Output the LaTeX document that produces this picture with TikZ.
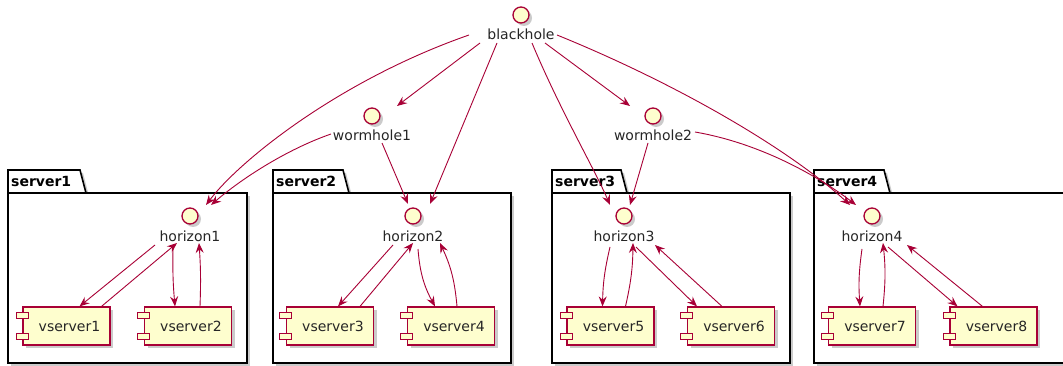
\documentclass[tikz,border=0pt]{standalone}
\usepackage{fontspec}
\setmainfont{DejaVu Sans}
\usetikzlibrary{arrows.meta,shadows,calc}
\definecolor{pred}{HTML}{A80036}
\definecolor{pfill}{HTML}{FEFECE}
\newcommand\vcomp[4]{%
  \node[comp] (#1) at (#2,#3) {\hspace*{6pt}#4};
  \draw[ctab] ([xshift=-6pt,yshift=-6pt]#1.north west) rectangle ++(12pt,-6pt);
  \draw[ctab] ([xshift=-6pt,yshift=6pt]#1.south west) rectangle ++(12pt,6pt);
}
\begin{document}
\begin{tikzpicture}[x=1pt,y=-1pt,
  shad/.style={drop shadow={shadow xshift=3pt,shadow yshift=-3pt,fill=black!45,opacity=0.45}},
  iface/.style={circle,draw=pred,fill=pfill,line width=1.3pt,minimum size=16pt,inner sep=0pt,shad},
  ilabel/.style={inner sep=0pt,text=black!85,font=\fontsize{14}{16}\selectfont},
  comp/.style={rectangle,draw=pred,fill=pfill,line width=1.2pt,minimum width=87pt,minimum height=38pt,inner sep=0pt,text=black!85,font=\fontsize{14}{16}\selectfont,shad},
  ctab/.style={draw=pred,fill=pfill,line width=1pt},
  pkg/.style={draw=black,fill=white,line width=1.6pt,shad},
  plabel/.style={inner sep=0pt,anchor=west,font=\bfseries\fontsize{14}{16}\selectfont},
  conn/.style={draw=pred,line width=0.9pt,-{Stealth[length=10pt,width=8pt,inset=3.5pt]}}
]
\useasboundingbox (0,0) rectangle (1063,366);
\fill[white] (0,0) rectangle (1063,366);

% packages
\draw[pkg] (8,193) -- (8,170) -- (80,170) -- (86,193) -- cycle;
\draw[pkg] (8,193) rectangle (247,363);
\node[plabel] (p1) at (11,181) {server1};
\draw[pkg] (273,193) -- (273,170) -- (343,170) -- (349,193) -- cycle;
\draw[pkg] (273,193) rectangle (511,363);
\node[plabel] (p2) at (276,181) {server2};
\draw[pkg] (552,193) -- (552,170) -- (621,170) -- (627,193) -- cycle;
\draw[pkg] (552,193) rectangle (790,363);
\node[plabel] (p3) at (555,181) {server3};
\draw[pkg] (814,193) -- (814,170) -- (884,170) -- (890,193) -- cycle;
\draw[pkg] (814,193) rectangle (1080,363);
\node[plabel] (p4) at (817,181) {server4};

% interfaces
\node[iface] (bh) at (521,15) {};
\node[ilabel] (bhl) at (521,34) {blackhole};
\node[iface] (w1) at (372,116) {};
\node[ilabel] (w1l) at (372,135) {wormhole1};
\node[iface] (w2) at (653,116) {};
\node[ilabel] (w2l) at (653,135) {wormhole2};
\node[iface] (h1) at (190,216) {};
\node[ilabel] (h1l) at (190,236) {horizon1};
\node[iface] (h2) at (413,216) {};
\node[ilabel] (h2l) at (413,236) {horizon2};
\node[iface] (h3) at (624,216) {};
\node[ilabel] (h3l) at (624,236) {horizon3};
\node[iface] (h4) at (872,216) {};
\node[ilabel] (h4l) at (872,236) {horizon4};

% components
\vcomp{v1}{66.5}{326}{vserver1}
\vcomp{v2}{188}{326}{vserver2}
\vcomp{v3}{330}{326}{vserver3}
\vcomp{v4}{451}{326}{vserver4}
\vcomp{v5}{610.5}{326}{vserver5}
\vcomp{v6}{731}{326}{vserver6}
\vcomp{v7}{872}{326}{vserver7}
\vcomp{v8}{993.5}{326}{vserver8}

% top-level connectors
\draw[conn] ($(bh)+(-41,28)$) -- ($(w1)+(25,-10)$);
\draw[conn] ($(bh)+(24,28)$) -- ($(w2)+(-23,-10)$);
\draw[conn] ($(bh)+(-52,20)$) .. controls (340,80) and (240,160) .. ($(h1)+(16,-11)$);
\draw[conn] ($(w1)+(-41,18)$) .. controls (285,150) and (240,180) .. ($(h1)+(21,-11)$);
\draw[conn] ($(w1)+(10,27)$) -- ($(h2)+(-5,-12)$);
\draw[conn] ($(bh)+(-24,28)$) -- ($(h2)+(17,-12)$);
\draw[conn] ($(bh)+(11,28)$) .. controls (560,110) and (595,170) .. ($(h3)+(-14,-11)$);
\draw[conn] ($(w2)+(-5,27)$) -- ($(h3)+(6,-11)$);
\draw[conn] ($(bh)+(36,20)$) .. controls (680,85) and (790,150) .. ($(h4)+(-22,-11)$);
\draw[conn] ($(w2)+(42,16)$) .. controls (770,145) and (830,185) .. ($(h4)+(-16,-11)$);

% server1
\draw[conn] ($(h1)+(-35,29)$) -- ($(v1.north)+(13,0)$);
\draw[conn] ($(v1.north)+(35,0)$) -- ($(h1)+(-13,27)$);
\draw[conn] ($(h1)+(-17,33)$) to[bend right=3] ($(v2.north)+(-13,0)$);
\draw[conn] ($(v2.north)+(12,0)$) to[bend right=3] ($(h1)+(9,27)$);
% server2
\draw[conn] ($(h2)+(-20,29)$) -- ($(v3.north)+(8,0)$);
\draw[conn] ($(v3.north)+(30,0)$) -- ($(h2)+(0,27)$);
\draw[conn] ($(h2)+(5,33)$) to[bend right=12] ($(v4.north)+(-16,0)$);
\draw[conn] ($(v4.north)+(6,0)$) to[bend right=10] ($(h2)+(27,27)$);
% server3
\draw[conn] ($(h3)+(-14,31)$) to[bend right=6] ($(v5.north)+(-8,0)$);
\draw[conn] ($(v5.north)+(15,0)$) to[bend right=6] ($(h3)+(9,27)$);
\draw[conn] ($(h3)+(12,31)$) -- ($(v6.north)+(-34,0)$);
\draw[conn] ($(v6.north)+(-9,0)$) -- ($(h3)+(31,29)$);
% server4
\draw[conn] ($(h4)+(-10,33)$) to[bend right=6] ($(v7.north)+(-12,0)$);
\draw[conn] ($(v7.north)+(11,0)$) to[bend right=6] ($(h4)+(11,27)$);
\draw[conn] ($(h4)+(16,31)$) -- ($(v8.north)+(-36,0)$);
\draw[conn] ($(v8.north)+(-11,0)$) -- ($(h4)+(35,29)$);
\end{tikzpicture}
\end{document}
